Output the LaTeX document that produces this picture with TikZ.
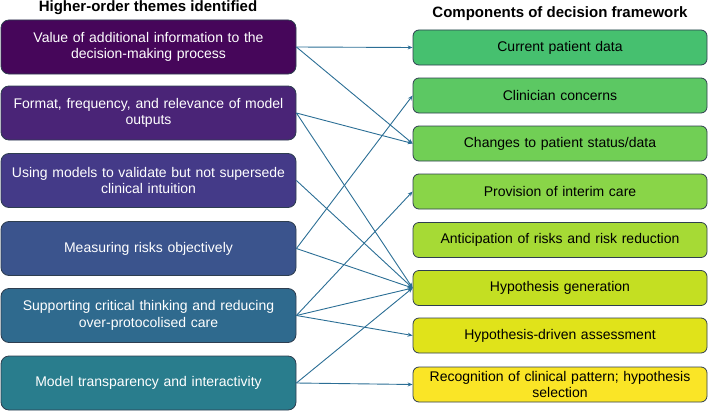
\documentclass[tikz,border=0pt]{standalone}
\usepackage{fontspec}
\setmainfont{Liberation Sans}
\usetikzlibrary{arrows.meta}
\definecolor{cLa}{HTML}{46065A}
\definecolor{cLb}{HTML}{4A2477}
\definecolor{cLc}{HTML}{443A88}
\definecolor{cLd}{HTML}{3B548D}
\definecolor{cLe}{HTML}{2F6A8E}
\definecolor{cLf}{HTML}{297D8D}
\definecolor{cRa}{HTML}{46C06F}
\definecolor{cRb}{HTML}{5CC863}
\definecolor{cRc}{HTML}{71CF55}
\definecolor{cRd}{HTML}{89D548}
\definecolor{cRe}{HTML}{A6DA35}
\definecolor{cRf}{HTML}{C4DF22}
\definecolor{cRg}{HTML}{E0E31A}
\definecolor{cRh}{HTML}{FAE526}
\definecolor{edgec}{HTML}{2E3E50}
\definecolor{linec}{HTML}{2B6E95}
\tikzset{
  lbox/.style={draw=edgec, line width=0.8pt, rounded corners=8pt, minimum width=295pt, minimum height=54pt, text width=285pt, align=center, text=white, font=\fontsize{14}{16.5}\selectfont, inner sep=0pt},
  rbox/.style={draw=edgec, line width=0.8pt, rounded corners=6pt, minimum width=294pt, minimum height=35pt, text width=285pt, align=center, text=black, font=\fontsize{14}{16.5}\selectfont, inner sep=0pt},
  hdr/.style={font=\fontsize{15}{18}\selectfont\bfseries, inner sep=0pt},
  conn/.style={draw=linec, line width=0.9pt, -{Stealth[length=5pt,width=4pt]}}
}
\begin{document}
\begin{tikzpicture}[x=1pt,y=-1pt]
\useasboundingbox (0,0) rectangle (708,412);
\node[hdr] (h1) at (148,8) {Higher-order themes identified};
\node[hdr] (h2) at (560,14) {Components of decision framework};

\node[lbox, fill=cLa] (L1) at (148.5,47) {Value of additional information to the\\decision-making process};
\node[lbox, fill=cLb] (L2) at (148.5,113) {Format, frequency, and relevance of model\\outputs};
\node[lbox, fill=cLc] (L3) at (148.5,180.5) {Using models to validate but not supersede\\clinical intuition};
\node[lbox, fill=cLd] (L4) at (148.5,248.5) {Measuring risks objectively};
\node[lbox, fill=cLe] (L5) at (148.5,315.5) {Supporting critical thinking and reducing\\over-protocolised care};
\node[lbox, fill=cLf] (L6) at (148.5,383) {Model transparency and interactivity};

\node[rbox, fill=cRa] (R1) at (560,47.5) {Current patient data};
\node[rbox, fill=cRb] (R2) at (560,95.5) {Clinician concerns};
\node[rbox, fill=cRc] (R3) at (560,143.5) {Changes to patient status/data};
\node[rbox, fill=cRd] (R4) at (560,191.5) {Provision of interim care};
\node[rbox, fill=cRe] (R5) at (560,240) {Anticipation of risks and risk reduction};
\node[rbox, fill=cRf] (R6) at (560,288) {Hypothesis generation};
\node[rbox, fill=cRg] (R7) at (560,335.5) {Hypothesis-driven assessment};
\node[rbox, fill=cRh] (R8) at (560,384.5) {Recognition of clinical pattern; hypothesis\\selection};

\draw[conn] (L1.east) -- (R1.west);
\draw[conn] (L1.east) -- (R3.west);
\draw[conn] (L2.east) -- (R3.west);
\draw[conn] (L2.east) -- (R6.west);
\draw[conn] (L3.east) -- (R6.west);
\draw[conn] (L4.east) -- (R2.west);
\draw[conn] (L4.east) -- (R6.west);
\draw[conn] (L5.east) -- (R4.west);
\draw[conn] (L5.east) -- (R6.west);
\draw[conn] (L5.east) -- (R7.west);
\draw[conn] (L6.east) -- (R6.west);
\draw[conn] (L6.east) -- (R8.west);
\end{tikzpicture}
\end{document}
